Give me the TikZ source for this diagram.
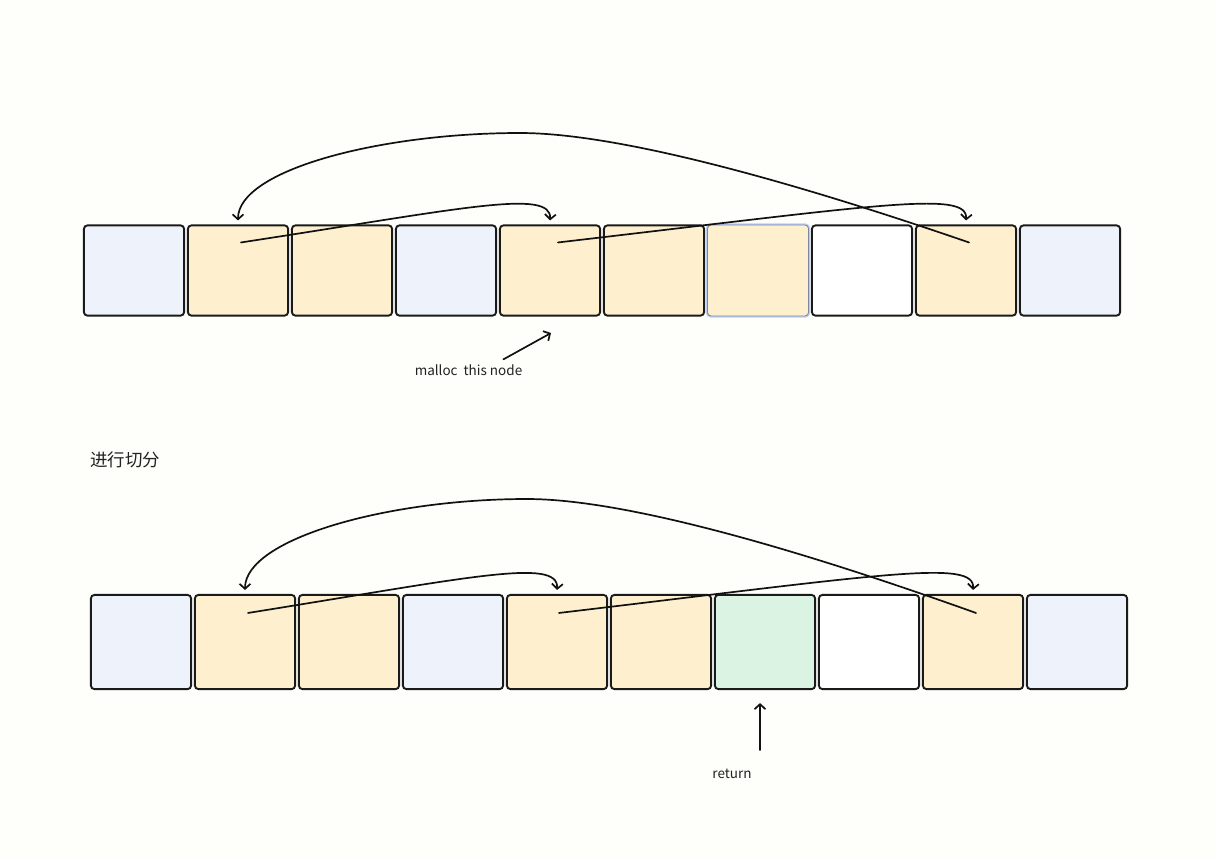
\documentclass[tikz,border=0pt]{standalone}
\usepackage{fontspec}
\setmainfont{Noto Sans CJK SC}
\usetikzlibrary{arrows.meta,calc}
\definecolor{bg}{HTML}{FEFEFA}
\definecolor{bd}{HTML}{1A1A1A}
\definecolor{ln}{HTML}{111111}
\definecolor{tx}{HTML}{222222}
\definecolor{cb}{HTML}{EEF2FB}
\definecolor{cy}{HTML}{FEF0CF}
\definecolor{cg}{HTML}{DAF3E2}
\definecolor{cw}{HTML}{FFFFFF}
\definecolor{halo}{HTML}{BCD0F4}
\definecolor{selb}{HTML}{7A86A6}
\begin{document}
\begin{tikzpicture}[x=1pt,y=-1pt,
  box/.style={draw=bd,line width=1.9pt,rounded corners=3.5pt,minimum width=100.2pt,inner sep=0pt},
  selbox/.style={preaction={draw=halo,line width=3.2pt,rounded corners=3.5pt},draw=selb,line width=0.9pt,rounded corners=3.5pt,minimum width=101pt,inner sep=0pt},
  arr/.style={line width=1.7pt,draw=ln,line cap=round,-{Straight Barb[length=5pt,width=11pt]}},
  lbl/.style={font=\fontsize{13.5}{16}\selectfont,text=tx,inner sep=0pt}]
\path[fill=bg,use as bounding box] (0,0) rectangle (1215,860);

% top row
\foreach \i/\c in {1/cb,2/cy,3/cy,4/cb,5/cy,6/cy,8/cw,9/cy,10/cb}
  \node[box,minimum height=90.2pt,fill=\c] (t\i) at ({134+104*(\i-1)},270.5) {};
\node[selbox,minimum height=91pt,fill=cy] (t7) at (758,270.5) {};

% bottom row
\foreach \i/\c in {1/cb,2/cy,3/cy,4/cb,5/cy,6/cy,7/cg,8/cw,9/cy,10/cb}
  \node[box,minimum height=94.2pt,fill=\c] (b\i) at ({141+104*(\i-1)},642) {};

% top connectors
\coordinate (t2s) at ($(t2.north)+(3,18)$);
\coordinate (t5s) at ($(t5.north)+(8,18)$);
\coordinate (t9s) at ($(t9.north)+(3,18)$);
\draw[arr] (t2s) .. controls (460,209) and (552,188) .. ($(t5.north)+(0,-4)$);
\draw[arr] (t5s) .. controls (880,205) and (968,190) .. ($(t9.north)+(0,-4)$);
\draw[arr] (t9s) .. controls (860,205) and (640,133) .. (520,133)
  .. controls (380,133) and (238,170) .. ($(t2.north)+(0,-4)$);

% bottom connectors
\coordinate (b2s) at ($(b2.north)+(3,19)$);
\coordinate (b5s) at ($(b5.north)+(2,19)$);
\coordinate (b9s) at ($(b9.north)+(3,19)$);
\draw[arr] (b2s) .. controls (467,578) and (559,557) .. ($(b5.north)+(0,-4)$);
\draw[arr] (b5s) .. controls (887,574) and (975,559) .. ($(b9.north)+(0,-4)$);
\draw[arr] (b9s) .. controls (867,574) and (647,499) .. (527,499)
  .. controls (387,499) and (245,539) .. ($(b2.north)+(0,-4)$);

% labels
\node[lbl] (mal) at (468.5,370) {malloc\ \ this node};
\coordinate (mals) at ($(mal.north east)+(-19,-5)$);
\coordinate (malt) at (551,333);
\draw[arr] (mals) -- (malt);

\node[font=\fontsize{17.5}{21}\selectfont,text=tx,inner sep=0pt] (cut) at (125,460) {进行切分};

\node[lbl] (ret) at (732,774) {return};
\coordinate (rets) at ($(b7.south)+(-5,60)$);
\coordinate (rett) at ($(b7.south)+(-5,13)$);
\draw[arr] (rets) -- (rett);
\end{tikzpicture}
\end{document}
